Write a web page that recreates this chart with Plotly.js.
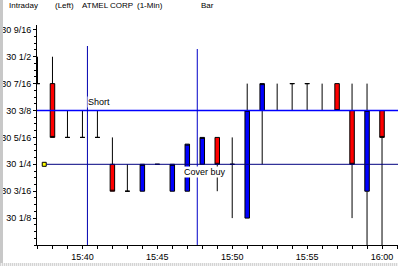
<!DOCTYPE html>
<html>
<head>
<meta charset="utf-8">
<script src="https://cdn.plot.ly/plotly-3.0.1.min.js"></script>
<style>
html,body{margin:0;padding:0;background:#fff;overflow:hidden;}
#chart{position:absolute;left:0;top:0;width:398px;height:266px;}
.frameL{position:absolute;left:0;top:0;width:3px;height:263px;background:#c8c8c8;}
.frameB{position:absolute;left:0;top:263px;width:398px;height:3px;
  background-image:repeating-linear-gradient(90deg,#d4d4d4 0 1px,#f0f0f0 1px 2px);}
</style>
</head>
<body>
<div id="chart"></div>
<div class="frameL"></div>
<div class="frameB"></div>
<script>
// ---- data ----
var times = ['15:37','15:38','15:39','15:40','15:41','15:42','15:43','15:44','15:45','15:46','15:47','15:48',
             '15:49','15:50','15:51','15:52','15:53','15:54','15:55','15:56','15:57','15:58','15:59','16:00'];
var opens  = [30.4375,30.4375,30.3125,30.3125,30.3125,30.25,30.1875,30.1875,30.25,30.1875,30.1875,30.25,
              30.3125,30.25,30.125,30.375,30.375,30.4375,30.4375,30.375,30.4375,30.375,30.1875,30.375];
var highs  = [30.5,30.5,30.375,30.375,30.375,30.3125,30.25,30.25,30.25,30.25,30.296875,30.3125,
              30.3125,30.3125,30.4375,30.4375,30.4375,30.4375,30.4375,30.4375,30.4375,30.4375,30.4375,30.375];
var lows   = [30.4375,30.3125,30.3125,30.3125,30.3125,30.1875,30.1875,30.1875,30.25,30.1875,30.1875,30.25,
              30.1875,30.125,30.125,30.25,30.375,30.375,30.375,30.375,30.375,30.125,30.0625,30.0625];
var closes = [30.4375,30.3125,30.3125,30.3125,30.3125,30.1875,30.1875,30.25,30.25,30.25,30.296875,30.3125,
              30.25,30.25,30.375,30.4375,30.375,30.4375,30.4375,30.375,30.375,30.25,30.375,30.3125];

var yTickVals = [30.125,30.1875,30.25,30.3125,30.375,30.4375,30.5,30.5625];
var yTickText = ['30 1/8','30 3/16','30 1/4','30 5/16','30 3/8','30 7/16','30 1/2','30 9/16'];

var tradeLabels = ['Short','Cover buy'];
var tradeTimes  = ['15:40:20','15:47:40'];
var tradePrices = [30.375,30.25];

var markerTimes  = ['15:37:27'];
var markerPrices = [30.25];

var titleParts = ['Intraday','(Left)','ATMEL CORP','(1-Min)','Bar'];

// ---- helpers ----
var DAY = '2000-01-03 ';
function d(t){ return DAY + (t.length===5 ? t+':00' : t); }
var PL = 37, PW = 361, PT = 25, PH = 220;
function px(x){ return (x-PL)/PW; }
function py(y){ return (PT+PH-y)/PH; }

var font = 'Liberation Sans, Arial, sans-serif';

var traces = [{
  type:'candlestick',
  x: times.map(d), open: opens, high: highs, low: lows, close: closes,
  increasing:{line:{color:'#000',width:1}, fillcolor:'#0000ff'},
  decreasing:{line:{color:'#000',width:1}, fillcolor:'#ff0000'},
  whiskerwidth:0, hoverinfo:'skip', showlegend:false
},{
  type:'scatter', mode:'markers', x: markerTimes.map(d), y: markerPrices,
  marker:{symbol:'square', size:4, color:'#ffff00', line:{color:'#000',width:1}},
  hoverinfo:'skip', showlegend:false, cliponaxis:false
}];

var shapes = [
  {type:'line', xref:'paper', x0:0, x1:1, yref:'y', y0:tradePrices[0], y1:tradePrices[0],
   line:{color:'#0000ff', width:1.5}, layer:'above'},
  {type:'line', xref:'x', x0:d('15:37:36'), x1:d('16:02'), yref:'y', y0:tradePrices[1], y1:tradePrices[1],
   line:{color:'#000080', width:1}, layer:'above'},
  {type:'line', xref:'x', x0:d(tradeTimes[0]), x1:d(tradeTimes[0]), yref:'paper', y0:0, y1:py(46),
   line:{color:'#0000b0', width:1}, layer:'above'},
  {type:'line', xref:'x', x0:d(tradeTimes[1]), x1:d(tradeTimes[1]), yref:'paper', y0:0, y1:py(49),
   line:{color:'#0000c8', width:1}, layer:'above'}
];

var titleX = [7,53,80,135,199];
var annotations = titleParts.map(function(t,i){
  return {text:t, xref:'paper', yref:'paper', x:px(titleX[i]), y:py(6), xanchor:'left', yanchor:'middle',
          showarrow:false, font:{family:font, size:8, color:'#000'}};
});
annotations.push({text:tradeLabels[0], xref:'x', yref:'y', x:d(tradeTimes[0]), y:tradePrices[0],
  xanchor:'left', yanchor:'bottom', xshift:0, yshift:3, showarrow:false, bgcolor:'#fff', borderpad:0,
  font:{family:font, size:9, color:'#000'}});
annotations.push({text:tradeLabels[1], xref:'x', yref:'y', x:d(tradeTimes[1]), y:tradePrices[1],
  xanchor:'left', yanchor:'top', xshift:-14, yshift:-2, showarrow:false, bgcolor:'#fff', borderpad:0,
  font:{family:font, size:9, color:'#000'}});

var layout = {
  width:398, height:266,
  margin:{l:PL, r:0, t:PT, b:266-PT-PH, pad:0},
  paper_bgcolor:'#fff', plot_bgcolor:'#fff',
  showlegend:false,
  boxgap:0.7, boxgroupgap:0,
  xaxis:{
    type:'date', range:[d('15:36:58'), d('16:01:04')],
    rangeslider:{visible:false},
    showgrid:false, zeroline:false,
    showline:true, linecolor:'#000', linewidth:1,
    ticks:'outside', ticklen:3, tickcolor:'#000', tickwidth:1,
    tick0:d('15:40'), dtick:300000, tickformat:'%H:%M',
    minor:{ticks:'outside', ticklen:3, tickcolor:'#000', dtick:60000, tick0:d('15:40'), showgrid:false},
    tickfont:{family:font, size:9, color:'#000'},
    fixedrange:true
  },
  yaxis:{
    range:[30.0625, 30.5737],
    showgrid:false, zeroline:false,
    showline:true, linecolor:'#000', linewidth:1,
    ticks:'outside', ticklen:3, tickcolor:'#000', tickwidth:1,
    tickmode:'array', tickvals:yTickVals, ticktext:yTickText,
    minor:{ticks:'outside', ticklen:2, tickcolor:'#000', dtick:0.015625, tick0:30.0625, showgrid:false},
    tickfont:{family:font, size:9, color:'#000'},
    fixedrange:true
  },
  shapes:shapes,
  annotations:annotations
};

Plotly.newPlot('chart', traces, layout, {staticPlot:true, displayModeBar:false});
</script>
</body>
</html>
